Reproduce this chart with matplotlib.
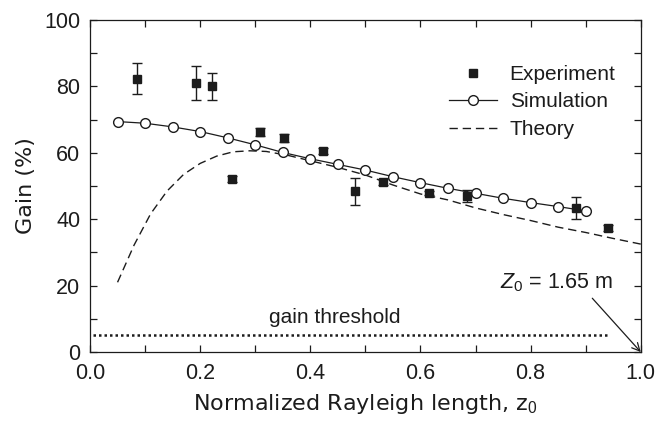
import matplotlib
matplotlib.use("Agg")
import matplotlib.pyplot as plt
from matplotlib.ticker import MultipleLocator

plt.rcParams['font.family'] = ['Liberation Sans', 'DejaVu Sans']
plt.rcParams['mathtext.fontset'] = 'custom'
plt.rcParams['mathtext.rm'] = 'Liberation Sans'
plt.rcParams['mathtext.it'] = 'Liberation Sans:italic'

INK = '#1c1c1c'

# Measured gain with error bars
exp_x = [0.085, 0.192, 0.221, 0.258, 0.309, 0.352, 0.423, 0.482, 0.532, 0.616, 0.684, 0.883, 0.941]
exp_y = [82.2, 81.0, 80.0, 52.1, 66.2, 64.4, 60.5, 48.5, 51.2, 48.0, 47.1, 43.3, 37.3]
exp_lo = [4.6, 5.0, 4.0, 1.0, 1.2, 1.2, 1.0, 4.2, 1.0, 0.6, 1.8, 3.3, 1.0]
exp_hi = [4.8, 5.0, 4.1, 1.0, 1.2, 1.2, 1.0, 4.0, 1.0, 0.6, 1.8, 3.3, 1.0]

# Simulated gain
sim_x = [0.05, 0.10, 0.15, 0.20, 0.25, 0.30, 0.35, 0.40, 0.45, 0.50, 0.55, 0.60,
         0.65, 0.70, 0.75, 0.80, 0.85, 0.90]
sim_y = [69.4, 68.9, 67.8, 66.4, 64.5, 62.4, 60.1, 58.2, 56.5, 54.8, 52.8, 51.0,
         49.3, 47.8, 46.3, 45.0, 43.8, 42.5]

# Theoretical gain
th_x = [0.05, 0.08, 0.11, 0.14, 0.17, 0.20, 0.23, 0.26, 0.29, 0.32, 0.36, 0.40,
        0.45, 0.50, 0.55, 0.60, 0.65, 0.70, 0.75, 0.80, 0.85, 0.90, 0.95, 1.00]
th_y = [21.0, 32.2, 41.6, 48.5, 53.5, 56.8, 59.0, 60.3, 60.6, 60.4, 59.2, 57.6,
        55.6, 53.3, 50.3, 47.6, 45.8, 43.4, 41.4, 39.6, 37.6, 36.0, 34.2, 32.5]

# Gain threshold level
thr_x = [0.005, 0.945]
thr_y = [5.0, 5.0]

fig = plt.figure(figsize=(6.58, 4.23), dpi=100)
ax = fig.add_axes([0.1368, 0.1678, 0.837, 0.785])

exp_art = ax.errorbar(exp_x, exp_y, yerr=[exp_lo, exp_hi], fmt='s', color=INK,
                      ms=6, ecolor=INK, elinewidth=1.0, capsize=3.8,
                      capthick=1.0, zorder=4)
sim_line, = ax.plot(sim_x, sim_y, '-o', color=INK, lw=0.9, ms=7, mfc='white',
                    mec=INK, mew=1.0, zorder=3)
th_line, = ax.plot(th_x, th_y, '--', color=INK, lw=1.0, dashes=(6, 3.5),
                   zorder=2)
ax.plot(thr_x, thr_y, ':', color=INK, lw=1.8, dashes=(1, 1.2), zorder=2)

ax.text(0.445, 8.6, 'gain threshold', ha='center', va='baseline',
        fontsize=15, color=INK)
ax.text(0.745, 19.3, r'$Z_{\mathrm{0}}$ = 1.65 m', ha='left', va='baseline',
        fontsize=15.5, color=INK)
ax.annotate('', xy=(1.0, 0.0), xytext=(0.912, 16.2),
            arrowprops=dict(arrowstyle='->', color=INK, lw=0.9,
                            shrinkA=0, shrinkB=0, mutation_scale=14))

ax.set_xlim(0.0, 1.0)
ax.set_ylim(0, 100)
ax.xaxis.set_major_locator(MultipleLocator(0.2))
ax.xaxis.set_minor_locator(MultipleLocator(0.1))
ax.yaxis.set_major_locator(MultipleLocator(20))
ax.yaxis.set_minor_locator(MultipleLocator(10))
ax.tick_params(which='both', direction='in', top=True, right=True,
               length=5, width=0.9, colors=INK, labelsize=15.5, pad=7)
ax.tick_params(axis='x', pad=8)
for s in ax.spines.values():
    s.set_color(INK)
    s.set_linewidth(0.9)

# axis titles set in a wider face
label_font = dict(family=['DejaVu Sans'], size=16, color=INK)
ax.set_xlabel(r'Normalized Rayleigh length, z$_{\mathrm{0}}$',
              fontdict=label_font, labelpad=6)
ax.set_ylabel('Gain (%)', fontdict=label_font, labelpad=6)

ax.legend([exp_art[0], sim_line, th_line],
          ['Experiment', 'Simulation', 'Theory'],
          loc='upper left', bbox_to_anchor=(0.637, 0.89), frameon=False,
          fontsize=15, handlelength=2.3, handletextpad=0.6,
          labelspacing=0.41, borderaxespad=0, labelcolor=INK)

fig.savefig('out.png', dpi=100)
